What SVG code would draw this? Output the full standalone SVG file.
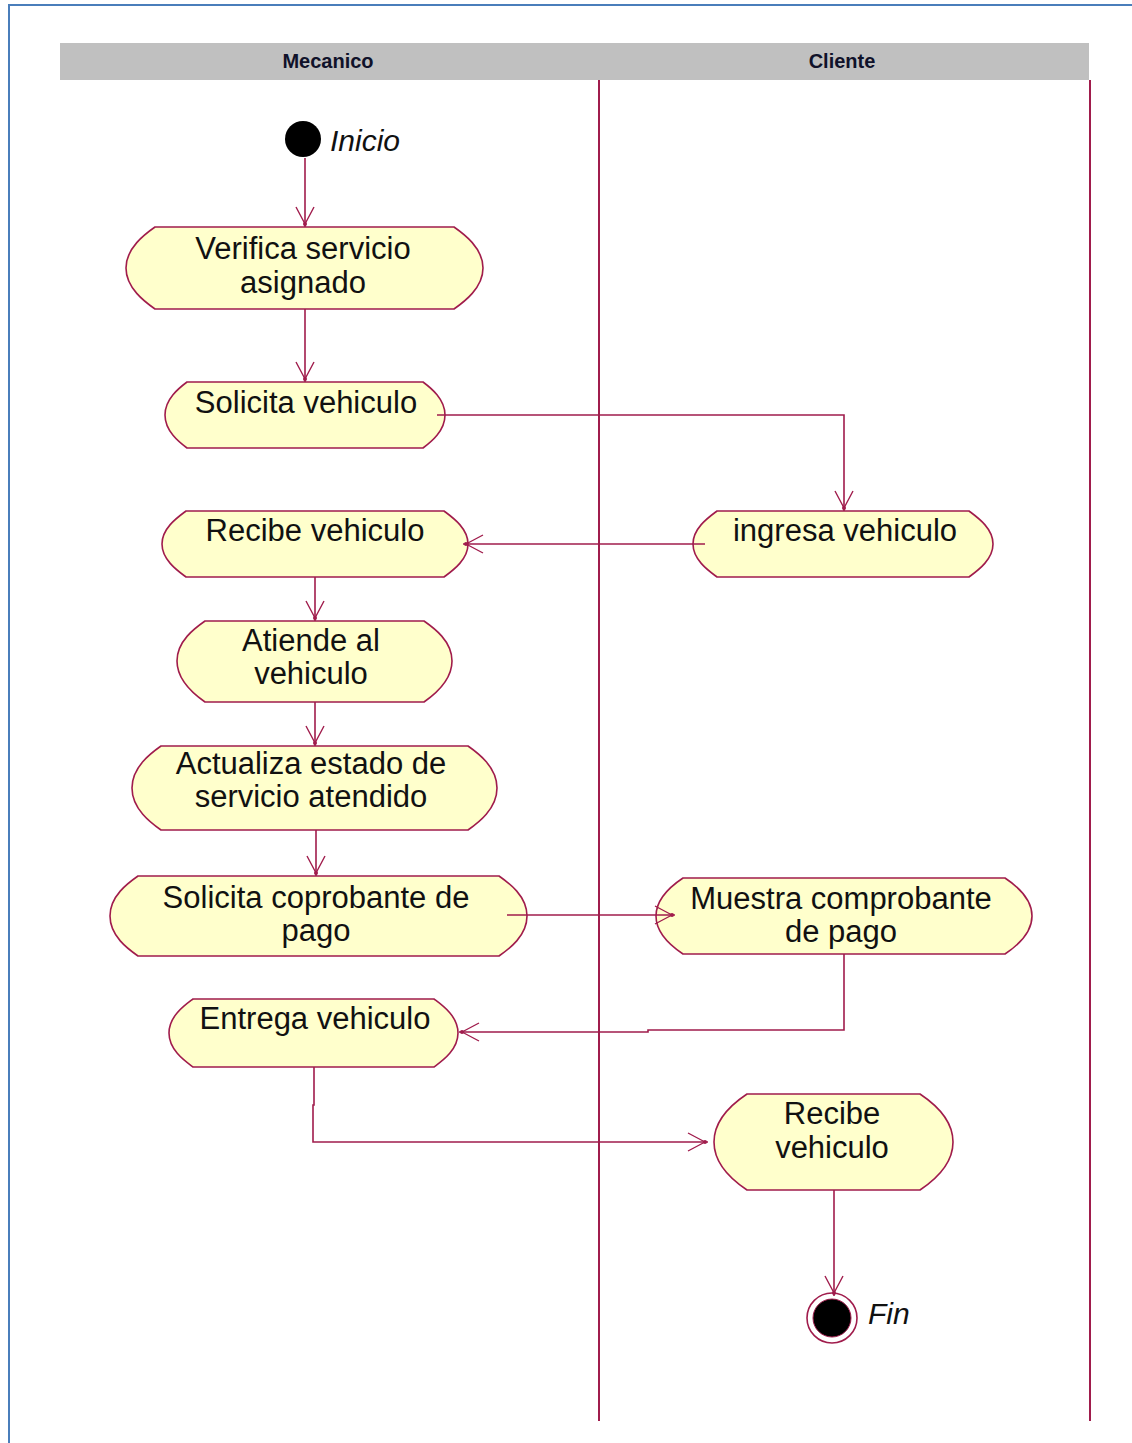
<svg xmlns="http://www.w3.org/2000/svg" width="1132" height="1443" viewBox="0 0 1132 1443">
  <style>
    .frame { stroke: #4a7ebb; stroke-width: 2; fill: none; }
    .lane-head { fill: #c0c0c0; }
    .lane-title { font-family: "Liberation Sans", Arial, sans-serif; font-size: 20px; font-weight: bold; fill: #10122a; text-anchor: middle; }
    .lane-line { stroke: #a01c4c; stroke-width: 2; }
    .act { fill: #ffffcc; stroke: #a01c4c; stroke-width: 1.6; }
    .label { font-family: "Liberation Sans", Arial, sans-serif; font-size: 31px; fill: #111; text-anchor: middle; }
    .state-label { font-family: "Liberation Sans", Arial, sans-serif; font-size: 30px; font-style: italic; fill: #111; }
    .flow { fill: none; stroke: #a01c4c; stroke-width: 1.6; marker-end: url(#open-arrow); }
  </style>
  <defs>
    <marker id="open-arrow" viewBox="-20 -11 24 22" markerWidth="24" markerHeight="22" refX="3" refY="0" orient="auto" markerUnits="userSpaceOnUse">
      <path d="M0,0 L-17,-9 M0,0 L-17,9" fill="none" stroke="#a01c4c" stroke-width="1.4"/>
      <circle cx="0" cy="0" r="2" fill="#a01c4c"/>
    </marker>
  </defs>

  <rect width="1132" height="1443" fill="#ffffff"/>
  <!-- page frame -->
  <path class="frame" d="M9,1443 V5 H1132"/>

  <!-- swimlanes -->
  <g id="swimlanes">
    <rect class="lane-head" x="60" y="43" width="1029" height="37"/>
    <text class="lane-title" x="328" y="68">Mecanico</text>
    <text class="lane-title" x="842" y="68">Cliente</text>
    <line class="lane-line" x1="599" y1="80" x2="599" y2="1421"/>
    <line class="lane-line" x1="1090" y1="80" x2="1090" y2="1421"/>
  </g>

  <!-- initial state -->
  <g id="inicio">
    <circle cx="303" cy="139" r="18" fill="#000"/>
    <text class="state-label" x="330" y="151">Inicio</text>
  </g>

  <!-- activities -->
  <g id="verifica-servicio">
    <path class="act" d="M155,227 H454 C464,234 483,248 483,268 C483,288 464,302 454,309 H155 C145,302 126,288 126,268 C126,248 145,234 155,227 Z"/>
    <text class="label" x="303" y="259">Verifica servicio</text>
    <text class="label" x="303" y="293">asignado</text>
  </g>
  <g id="solicita-vehiculo">
    <path class="act" d="M187,382 H423 C431,388 445,399 445,415 C445,431 431,442 423,448 H187 C179,442 165,431 165,415 C165,399 179,388 187,382 Z"/>
    <text class="label" x="306" y="413">Solicita vehiculo</text>
  </g>
  <g id="recibe-vehiculo-mecanico">
    <path class="act" d="M186,511 H444 C452,517 468,528 468,544 C468,560 452,571 444,577 H186 C178,571 162,560 162,544 C162,528 178,517 186,511 Z"/>
    <text class="label" x="315" y="541">Recibe vehiculo</text>
  </g>
  <g id="ingresa-vehiculo">
    <path class="act" d="M717,511 H969 C977,517 993,528 993,544 C993,560 977,571 969,577 H717 C709,571 693,560 693,544 C693,528 709,517 717,511 Z"/>
    <text class="label" x="845" y="541">ingresa vehiculo</text>
  </g>
  <g id="atiende-vehiculo">
    <path class="act" d="M205,621 H424 C434,628 452,641 452,661 C452,681 434,695 424,702 H205 C195,695 177,681 177,661 C177,641 195,628 205,621 Z"/>
    <text class="label" x="311" y="651">Atiende al</text>
    <text class="label" x="311" y="684">vehiculo</text>
  </g>
  <g id="actualiza-estado">
    <path class="act" d="M161,746 H468 C478,753 497,767 497,788 C497,809 478,823 468,830 H161 C151,823 132,809 132,788 C132,767 151,753 161,746 Z"/>
    <text class="label" x="311" y="774">Actualiza estado de</text>
    <text class="label" x="311" y="807">servicio atendido</text>
  </g>
  <g id="solicita-comprobante">
    <path class="act" d="M138,876 H499 C509,883 527,896 527,916 C527,936 509,949 499,956 H138 C128,949 110,936 110,916 C110,896 128,883 138,876 Z"/>
    <text class="label" x="316" y="908">Solicita coprobante de</text>
    <text class="label" x="316" y="941">pago</text>
  </g>
  <g id="muestra-comprobante">
    <path class="act" d="M683,878 H1005 C1014,884 1032,897 1032,916 C1032,935 1014,948 1005,954 H683 C674,948 656,935 656,916 C656,897 674,884 683,878 Z"/>
    <text class="label" x="841" y="909">Muestra comprobante</text>
    <text class="label" x="841" y="942">de pago</text>
  </g>
  <g id="entrega-vehiculo">
    <path class="act" d="M193,999 H434 C442,1005 458,1016 458,1033 C458,1050 442,1061 434,1067 H193 C185,1061 169,1050 169,1033 C169,1016 185,1005 193,999 Z"/>
    <text class="label" x="315" y="1029">Entrega vehiculo</text>
  </g>
  <g id="recibe-vehiculo-cliente">
    <path class="act" d="M747,1094 H920 C932,1102 953,1118 953,1142 C953,1166 932,1182 920,1190 H747 C735,1182 714,1166 714,1142 C714,1118 735,1102 747,1094 Z"/>
    <text class="label" x="832" y="1124">Recibe</text>
    <text class="label" x="832" y="1158">vehiculo</text>
  </g>

  <!-- final state -->
  <g id="fin">
    <circle cx="832" cy="1318" r="25" fill="#ffffff" stroke="#a01c4c" stroke-width="1.6"/>
    <circle cx="832" cy="1318" r="19" fill="#000" stroke="#a01c4c" stroke-width="1"/>
    <text class="state-label" x="868" y="1324">Fin</text>
  </g>

  <!-- control flows -->
  <g id="connectors">
    <path class="flow" d="M305,158 V227"/>
    <path class="flow" d="M305,309 V382"/>
    <path class="flow" d="M437,415 H844 V511"/>
    <path class="flow" d="M705,544 H463"/>
    <path class="flow" d="M315,577 V621"/>
    <path class="flow" d="M315,702 V746"/>
    <path class="flow" d="M316,830 V876"/>
    <path class="flow" d="M507,915 H675"/>
    <path class="flow" d="M844,954 V1030 H648 V1032 H459"/>
    <path class="flow" d="M314,1067 V1105 H313 V1142 H708"/>
    <path class="flow" d="M834,1190 V1296"/>
  </g>
</svg>
